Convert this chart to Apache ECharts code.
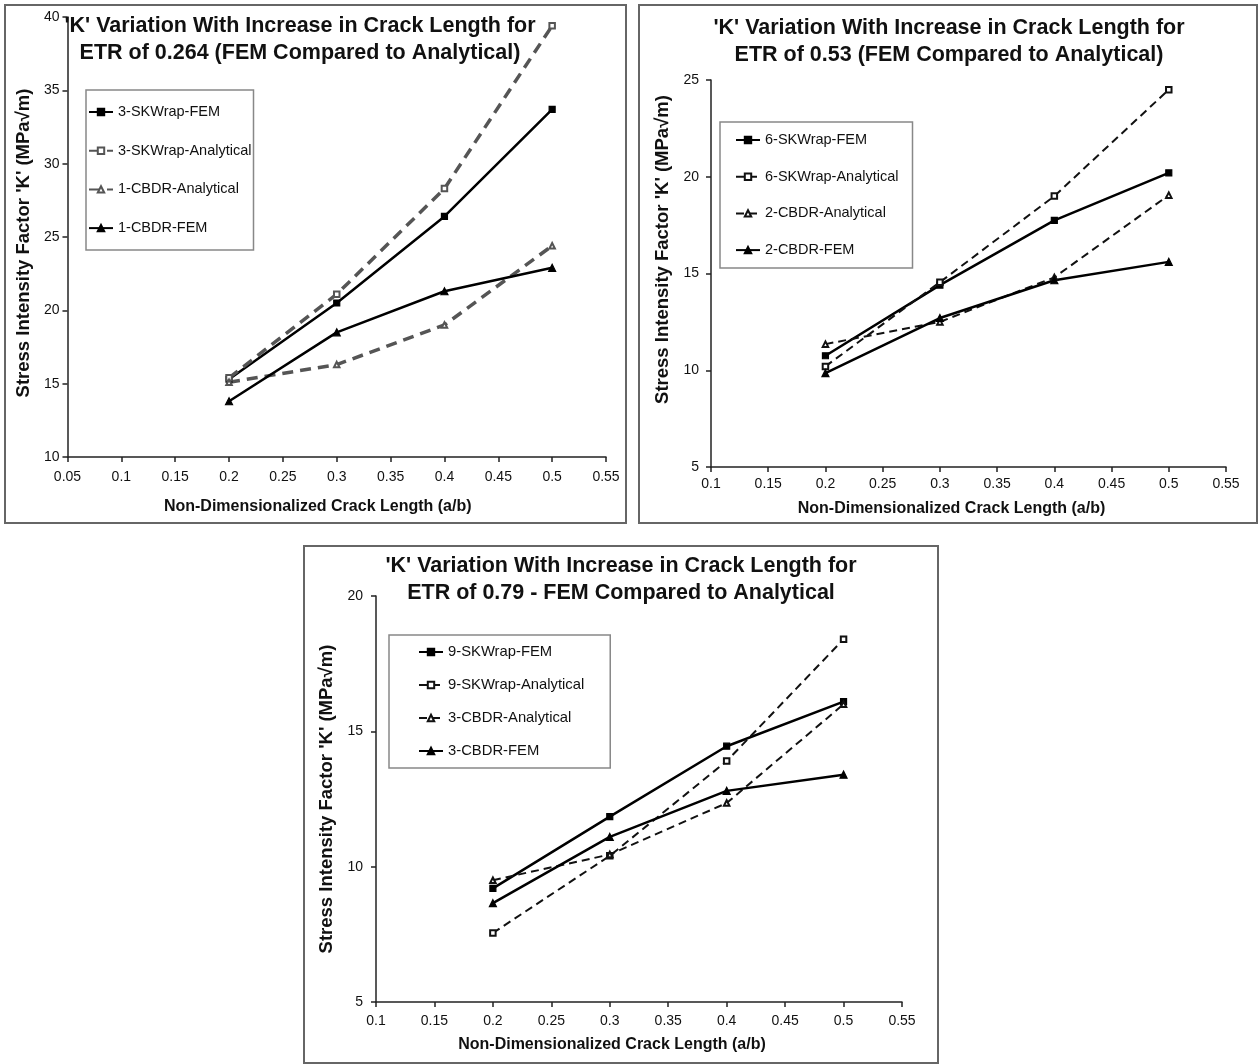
<!DOCTYPE html>
<html>
<head>
<meta charset="utf-8">
<script src="https://cdn.jsdelivr.net/npm/echarts@6/dist/echarts.min.js"></script>
<style>
  html, body { margin: 0; padding: 0; background: #fff; }
  body { width: 1258px; height: 1064px; position: relative; overflow: hidden; }
  .panel { position: absolute; box-sizing: border-box; border: 2px solid #666; background: #fff; }
  #chartA { left: 4px; top: 4px; width: 623px; height: 520px; }
  #chartB { left: 638px; top: 4px; width: 620px; height: 520px; }
  #chartC { left: 303px; top: 545px; width: 636px; height: 519px; }
</style>
</head>
<body>
<div id="chartA" class="panel"></div>
<div id="chartB" class="panel"></div>
<div id="chartC" class="panel"></div>
<script>
// crack length a/b, shared by all three charts
const crackLength = [0.2, 0.3, 0.4, 0.5];

// ETR 0.264
const etr264SkwrapFem = [15.3, 20.5, 26.4, 33.7];
const etr264SkwrapAnalytical = [15.4, 21.1, 28.3, 39.4];
const etr264CbdrAnalytical = [15.1, 16.3, 19.0, 24.4];
const etr264CbdrFem = [13.8, 18.5, 21.3, 22.9];

// ETR 0.53
const etr53SkwrapFem = [10.75, 14.4, 17.75, 20.2];
const etr53SkwrapAnalytical = [10.2, 14.55, 19.0, 24.5];
const etr53CbdrAnalytical = [11.35, 12.5, 14.8, 19.05];
const etr53CbdrFem = [9.85, 12.7, 14.65, 15.6];

// ETR 0.79
const etr79SkwrapFem = [9.2, 11.85, 14.45, 16.1];
const etr79SkwrapAnalytical = [7.55, 10.4, 13.9, 18.4];
const etr79CbdrAnalytical = [9.5, 10.45, 12.35, 16.0];
const etr79CbdrFem = [8.65, 11.1, 12.8, 13.4];

const legendNamesA = ['3-SKWrap-FEM', '3-SKWrap-Analytical', '1-CBDR-Analytical', '1-CBDR-FEM'];
const legendNamesB = ['6-SKWrap-FEM', '6-SKWrap-Analytical', '2-CBDR-Analytical', '2-CBDR-FEM'];
const legendNamesC = ['9-SKWrap-FEM', '9-SKWrap-Analytical', '3-CBDR-Analytical', '3-CBDR-FEM'];

const titleA = "'K' Variation With Increase in Crack Length for\nETR of 0.264 (FEM Compared to Analytical)";
const titleB = "'K' Variation With Increase in Crack Length for\nETR of 0.53 (FEM Compared to Analytical)";
const titleC = "'K' Variation With Increase in Crack Length for\nETR of 0.79 - FEM Compared to Analytical";

const xAxisName = 'Non-Dimensionalized Crack Length (a/b)';
const yAxisName = "Stress Intensity Factor 'K' (MPa\u221Am)";

const FONT = "'Liberation Sans', Arial, sans-serif";

function pairs(values) {
    return crackLength.map((x, i) => [x, values[i]]);
}

function buildChart(domId, cfg) {
    const chart = echarts.init(document.getElementById(domId), null, { renderer: 'canvas' });

    // solid = FEM, dashed = analytical
    const solid = { color: '#000', width: 2.5, type: 'solid' };
    const dashed = { color: cfg.dashColor, width: cfg.dashWidth, type: cfg.dashPattern };

    const series = [
        { name: cfg.names[0], data: pairs(cfg.values[0]), symbol: 'rect', symbolSize: 6, lineStyle: solid, color: '#000' },
        { name: cfg.names[1], data: pairs(cfg.values[1]), symbol: 'emptyRect', symbolSize: 5.5, lineStyle: dashed, color: cfg.dashColor },
        { name: cfg.names[2], data: pairs(cfg.values[2]), symbol: 'emptyTriangle', symbolSize: 5.5, lineStyle: dashed, color: cfg.dashColor },
        { name: cfg.names[3], data: pairs(cfg.values[3]), symbol: 'triangle', symbolSize: 7, lineStyle: solid, color: '#000' }
    ].map(s => Object.assign({
        type: 'line',
        showSymbol: true,
        itemStyle: { color: s.color, borderColor: s.color, borderWidth: 1.2 },
        z: 3
    }, s));

    const axisCommon = {
        type: 'value',
        splitLine: { show: false },
        axisLine: { show: true, onZero: false, lineStyle: { color: '#222', width: 1.5 } },
        axisTick: { show: true, inside: false, length: 5, lineStyle: { color: '#222', width: 1.5 } },
        nameLocation: 'middle',
        nameTextStyle: { fontFamily: FONT, fontWeight: 'bold', color: '#111' }
    };

    const option = {
        animation: false,
        backgroundColor: '#fff',
        textStyle: { fontFamily: FONT },
        title: {
            text: cfg.title,
            left: cfg.titleX,
            top: cfg.titleY,
            textAlign: 'center',
            padding: 0,
            textStyle: { fontFamily: FONT, fontWeight: 'bold', fontSize: 21.5, lineHeight: 27, color: '#111' }
        },
        legend: {
            data: cfg.names,
            orient: 'vertical',
            left: cfg.legend.left,
            top: cfg.legend.top,
            padding: cfg.legend.padding,
            itemGap: cfg.legend.gap,
            itemWidth: 24,
            itemHeight: 8,
            borderColor: '#888',
            borderWidth: 1.5,
            textStyle: { fontFamily: FONT, fontSize: cfg.legend.fontSize, lineHeight: 16, color: '#111' }
        },
        grid: cfg.grid,
        xAxis: Object.assign({}, axisCommon, {
            min: cfg.xMin,
            max: 0.55,
            interval: 0.05,
            name: xAxisName,
            nameGap: cfg.xNameGap,
            nameTextStyle: Object.assign({}, axisCommon.nameTextStyle, { fontSize: 16, padding: cfg.xNamePad }),
            axisLabel: {
                margin: cfg.xLabelMargin,
                fontFamily: FONT, fontSize: 14, color: '#111',
                formatter: v => String(parseFloat(v.toFixed(2)))
            }
        }),
        yAxis: Object.assign({}, axisCommon, {
            min: cfg.yMin,
            max: cfg.yMax,
            interval: 5,
            name: yAxisName,
            nameRotate: 90,
            nameGap: cfg.yNameGap,
            nameTextStyle: Object.assign({}, axisCommon.nameTextStyle, { fontSize: 18.5, padding: cfg.yNamePad }),
            axisLabel: { margin: cfg.yLabelMargin, fontFamily: FONT, fontSize: 14, color: '#111' }
        }),
        series
    };

    chart.setOption(option);
    return chart;
}

const charts = [
    buildChart('chartA', {
        title: titleA, titleX: 294, titleY: 7,
        names: legendNamesA,
        values: [etr264SkwrapFem, etr264SkwrapAnalytical, etr264CbdrAnalytical, etr264CbdrFem],
        dashColor: '#555', dashWidth: 3.5, dashPattern: [11, 7],
        grid: { left: 59, top: 11, width: 541, height: 440 },
        xMin: 0.05, yMin: 10, yMax: 40,
        xNameGap: 42, xNamePad: [0, 38, 0, 0], xLabelMargin: 13,
        yNameGap: 33, yNamePad: [0, 12, 0, 0], yLabelMargin: 8,
        legend: { left: 80, top: 84, padding: [14, 2, 14, 2], gap: 22.7, fontSize: 14.5 }
    }),
    buildChart('chartB', {
        title: titleB, titleX: 309, titleY: 9,
        names: legendNamesB,
        values: [etr53SkwrapFem, etr53SkwrapAnalytical, etr53CbdrAnalytical, etr53CbdrFem],
        dashColor: '#111', dashWidth: 2, dashPattern: [8, 5],
        grid: { left: 71, top: 74, width: 515, height: 388 },
        xMin: 0.1, yMin: 5, yMax: 25,
        xNameGap: 34, xNamePad: [0, 34, 0, 0], xLabelMargin: 10,
        yNameGap: 34, yNamePad: [0, 0, 0, 48], yLabelMargin: 12,
        legend: { left: 80, top: 116, padding: [10, 14, 10, 15], gap: 20.7, fontSize: 14.5 }
    }),
    buildChart('chartC', {
        title: titleC, titleX: 316, titleY: 6,
        names: legendNamesC,
        values: [etr79SkwrapFem, etr79SkwrapAnalytical, etr79CbdrAnalytical, etr79CbdrFem],
        dashColor: '#111', dashWidth: 2, dashPattern: [8, 5],
        grid: { left: 71, top: 49, width: 526, height: 406 },
        xMin: 0.1, yMin: 5, yMax: 20,
        xNameGap: 35, xNamePad: [0, 54, 0, 0], xLabelMargin: 12,
        yNameGap: 35, yNamePad: [0, 0, 0, 0], yLabelMargin: 13,
        legend: { left: 84, top: 88, padding: [9, 26, 9, 29], gap: 17, fontSize: 14.8 }
    })
];

window.addEventListener('resize', () => charts.forEach(c => c.resize()));
</script>
</body>
</html>
